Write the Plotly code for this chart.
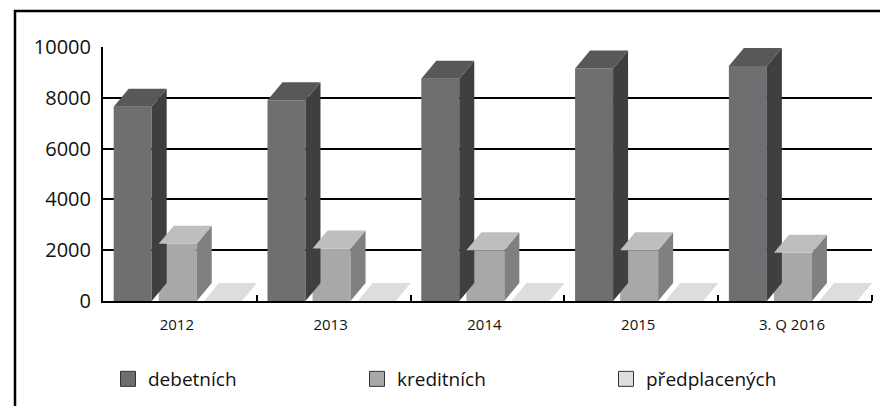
import plotly.graph_objects as go

# ---- data ----
categories = ["2012", "2013", "2014", "2015", "3. Q 2016"]
series_names = ["debetních", "kreditních", "předplacených"]
debetni = [7650, 7900, 8750, 9150, 9250]
kreditni = [2250, 2070, 2000, 2000, 1900]
predplacene = [0, 0, 0, 0, 0]
y_ticks = [0, 2000, 4000, 6000, 8000, 10000]
y_tick_labels = ["0", "2000", "4000", "6000", "8000", "10000"]

# ---- styles ----
front_colors = ["#6e6f71", "#a7a8aa", "#d4d5d7"]
top_colors = ["#58585a", "#bdbec0", "#dcdddf"]
side_colors = ["#3f3f41", "#7f8082", "#b9babc"]

# page body has an 8px default margin -> figure is drawn from (8, 8)
PAGE_OFF = 8
W, H = 888 - PAGE_OFF, 406 - PAGE_OFF
ML, MR, MT, MB = 103 - PAGE_OFF, 16, 47 - PAGE_OFF, 105
PW, PH = W - ML - MR, H - MT - MB
XMIN, XMAX = -0.5, len(categories) - 0.5
YMIN, YMAX = 0, 10000

# 3D depth in pixels -> data units
DX = 15 * (XMAX - XMIN) / PW
DY = 18 * (YMAX - YMIN) / PH
BAR_W = 38 * (XMAX - XMIN) / PW
offsets = [-0.307, -0.014, 0.28]

fig = go.Figure()
all_series = [debetni, kreditni, predplacene]

for k, (name, vals) in enumerate(zip(series_names, all_series)):
    xs = [i + offsets[k] for i in range(len(categories))]
    # front faces
    fig.add_trace(go.Bar(x=xs, y=vals, width=BAR_W, marker=dict(color=front_colors[k], line=dict(width=0)),
                         showlegend=False, hoverinfo="skip"))
    for xc, v in zip(xs, vals):
        l, r = xc - BAR_W / 2, xc + BAR_W / 2
        # side face
        fig.add_trace(go.Scatter(
            x=[r, r + DX, r + DX, r, r], y=[0, DY, v + DY, v, 0],
            fill="toself", fillcolor=side_colors[k], mode="lines", line=dict(width=0),
            showlegend=False, hoverinfo="skip"))
        # top face
        fig.add_trace(go.Scatter(
            x=[l, r, r + DX, l + DX, l], y=[v, v, v + DY, v + DY, v],
            fill="toself", fillcolor=top_colors[k], mode="lines", line=dict(width=0),
            showlegend=False, hoverinfo="skip"))

# legend entries
legend_colors = ["#6e6f71", "#a7a8aa", "#dcdddf"]
for k, name in enumerate(series_names):
    fig.add_trace(go.Scatter(x=[None], y=[None], mode="markers", name=name,
                             marker=dict(symbol="square", size=15, color=legend_colors[k],
                                         line=dict(color="#333333", width=1))))

fig.update_layout(
    width=W, height=H,
    margin=dict(l=ML, r=MR, t=MT, b=MB, autoexpand=False),
    paper_bgcolor="white", plot_bgcolor="white",
    font=dict(family="Open Sans", color="#111111"),
    barmode="overlay",
    xaxis=dict(range=[XMIN, XMAX], tickmode="array", tickvals=[i - 0.02 for i in range(len(categories))],
               ticktext=categories, ticks="", showgrid=False, zeroline=False, automargin=False,
               showline=True, linecolor="black", linewidth=2,
               tickfont=dict(size=15, family="Open Sans"), ticklabelstandoff=9,
               minor=dict(tickmode="array", tickvals=[i + 0.5 for i in range(len(categories))],
                          ticks="inside", ticklen=6, tickwidth=1.5, tickcolor="black", showgrid=False)),
    yaxis=dict(range=[YMIN, YMAX], tickmode="array", tickvals=y_ticks, ticktext=y_tick_labels, ticks="",
               showgrid=True, gridcolor="black", gridwidth=2, zeroline=False, automargin=False,
               showline=True, linecolor="black", linewidth=2,
               tickfont=dict(size=20, family="Open Sans"), ticklabelstandoff=6),
    legend=dict(orientation="h", x=5 / PW, xanchor="left", y=-78 / PH, yanchor="middle",
                entrywidth=204, entrywidthmode="pixels", font=dict(size=19, family="Open Sans"),
                bgcolor="rgba(0,0,0,0)"),
    shapes=[
        dict(type="rect", xref="paper", yref="paper",
             x0=(15 - PAGE_OFF - ML) / PW, x1=(W + 20 - ML) / PW,
             y0=-(H + 20 - MT - PH) / PH, y1=(PH + MT - (11 - PAGE_OFF)) / PH,
             line=dict(color="black", width=2.5), fillcolor="rgba(0,0,0,0)", layer="below"),
    ],
)

fig.write_html("out.html")
